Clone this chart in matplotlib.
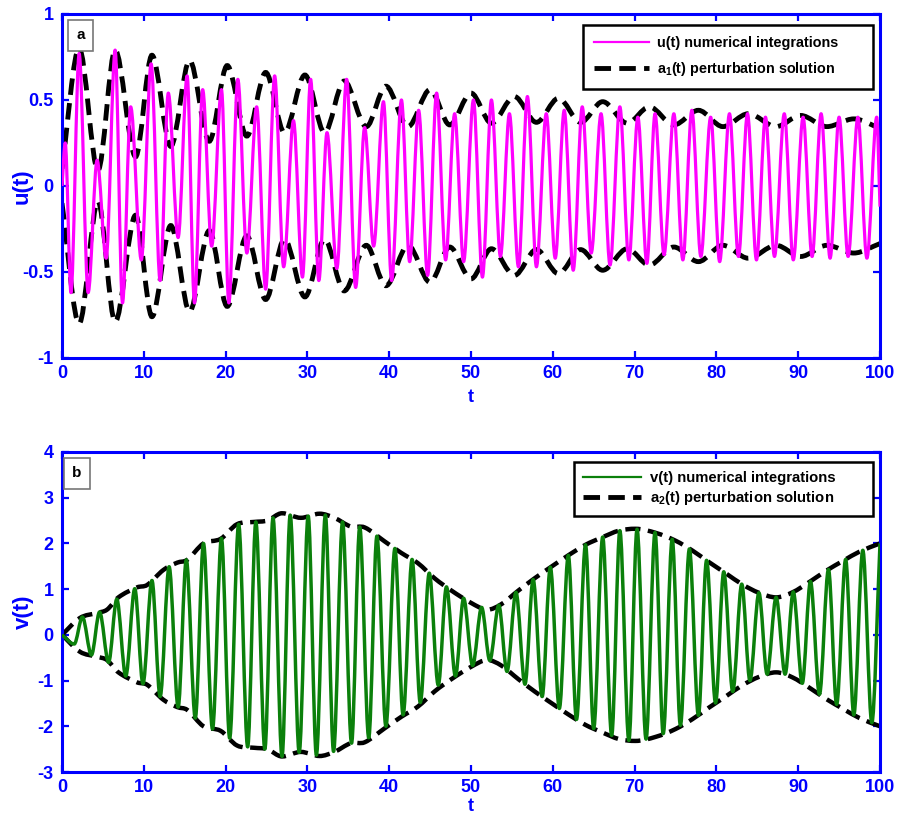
import numpy as np
import matplotlib
matplotlib.use('Agg')
import matplotlib.pyplot as plt
from matplotlib.lines import Line2D
from matplotlib.path import Path
from matplotlib.patches import PathPatch

plt.rcParams['font.family'] = ['Liberation Sans', 'DejaVu Sans']
plt.rcParams['mathtext.fontset'] = 'custom'
plt.rcParams['mathtext.rm'] = 'Liberation Sans:bold'
plt.rcParams['mathtext.it'] = 'Liberation Sans:bold'
plt.rcParams['mathtext.bf'] = 'Liberation Sans:bold'
plt.rcParams['axes.unicode_minus'] = False

# ---------------- data: panel a ----------------
u_peak_t = [0.4, 2.1, 4.3, 6.5, 8.4, 10.9, 13.0, 15.3, 17.2, 19.5, 21.5, 23.8, 26.0, 28.3,
            30.4, 32.4, 34.8, 37.0, 39.3, 41.5, 43.6, 45.8, 48.0, 50.3, 52.5, 54.7, 56.9,
            59.2, 61.4, 63.6, 65.9, 68.2, 70.4, 72.5, 74.8, 77.0, 79.3, 81.6, 83.8, 86.0,
            88.3, 90.6, 92.8, 95.0, 97.3, 99.6]
u_peak_v = [0.25, 0.77, 0.15, 0.79, 0.46, 0.71, 0.54, 0.64, 0.56, 0.56, 0.62, 0.46, 0.64, 0.38,
            0.62, 0.31, 0.62, 0.34, 0.49, 0.50, 0.44, 0.54, 0.42, 0.50, 0.50, 0.42, 0.52,
            0.42, 0.44, 0.46, 0.42, 0.46, 0.40, 0.42, 0.42, 0.44, 0.40, 0.42, 0.42, 0.40,
            0.42, 0.40, 0.42, 0.40, 0.40, 0.40]
u_trough_t = [0.0, 1.1, 3.2, 5.4, 7.4, 9.7, 12.0, 14.2, 16.2, 18.3, 20.4, 22.6, 24.9, 27.1,
              29.4, 31.4, 33.6, 35.9, 38.1, 40.3, 42.5, 44.7, 46.9, 49.1, 51.4, 53.6, 55.8,
              58.0, 60.3, 62.5, 64.7, 67.0, 69.3, 71.5, 73.6, 75.9, 78.1, 80.4, 82.7, 84.9,
              87.1, 89.4, 91.7, 93.9, 96.1, 98.4, 100.0]
u_trough_v = [0.0, -0.62, -0.62, -0.42, -0.68, -0.43, -0.55, -0.30, -0.68, -0.35, -0.68, -0.39,
              -0.60, -0.47, -0.53, -0.55, -0.48, -0.59, -0.35, -0.55, -0.44, -0.52, -0.43,
              -0.44, -0.53, -0.41, -0.47, -0.47, -0.42, -0.49, -0.39, -0.46, -0.43, -0.45,
              -0.40, -0.43, -0.41, -0.44, -0.41, -0.43, -0.41, -0.43, -0.41, -0.42, -0.41,
              -0.42, -0.12]
a1_t = [0.0, 2.1, 4.4, 6.5, 9.0, 11.0, 13.3, 15.6, 18.0, 20.2, 22.6, 24.9, 27.2, 29.7,
        32.1, 34.5, 37.2, 39.6, 42.3, 45.0, 47.4, 50.0, 52.5, 55.3, 58.0, 60.7, 63.4,
        66.1, 69.1, 71.8, 74.8, 77.8, 80.8, 83.9, 87.3, 90.3, 93.5, 96.8, 100.0]
a1_v = [0.10, 0.80, 0.09, 0.79, 0.17, 0.76, 0.23, 0.73, 0.26, 0.70, 0.29, 0.66, 0.31, 0.645,
        0.31, 0.61, 0.345, 0.58, 0.345, 0.56, 0.355, 0.54, 0.365, 0.52, 0.37, 0.51, 0.37,
        0.49, 0.365, 0.46, 0.355, 0.44, 0.345, 0.42, 0.345, 0.41, 0.345, 0.39, 0.335]

# ---------------- data: panel b ----------------
v_peak_t = [2.5, 4.6, 6.7, 8.9, 11.0, 13.1, 15.2, 17.3, 19.5, 21.6, 23.7, 25.8, 27.9, 30.1,
            32.2, 34.3, 36.4, 38.5, 40.7, 42.8, 44.9, 47.0, 49.1, 51.3, 53.4, 55.5, 57.6,
            59.7, 61.9, 64.0, 66.1, 68.2, 70.3, 72.5, 74.6, 76.7, 78.8, 80.9, 83.1, 85.2,
            87.3, 89.4, 91.5, 93.7, 95.8, 97.9, 100.0]
v_peak_v = [0.39, 0.50, 0.78, 1.01, 1.19, 1.49, 1.64, 2.0, 2.11, 2.42, 2.47, 2.56, 2.62, 2.6,
            2.62, 2.47, 2.36, 2.16, 1.89, 1.65, 1.35, 1.05, 0.8, 0.6, 0.65, 0.93, 1.21,
            1.48, 1.74, 1.97, 2.14, 2.28, 2.31, 2.24, 2.09, 1.88, 1.63, 1.38, 1.11, 0.92,
            0.82, 0.94, 1.17, 1.43, 1.65, 1.85, 2.0]
v_trough_t = [0.0, 1.5, 3.6, 5.7, 7.8, 9.9, 12.0, 14.2, 16.3, 18.4, 20.5, 22.7, 24.8, 26.9,
              29.0, 31.1, 33.2, 35.4, 37.5, 39.6, 41.7, 43.8, 46.0, 48.1, 50.2, 52.3, 54.4,
              56.6, 58.7, 60.8, 62.9, 65.0, 67.2, 69.3, 71.4, 73.5, 75.6, 77.8, 79.9, 82.0,
              84.1, 86.2, 88.4, 90.5, 92.6, 94.7, 96.8, 99.0]
v_trough_v = [0.0, -0.2, -0.44, -0.6, -0.9, -1.07, -1.35, -1.58, -1.82, -2.06, -2.26, -2.45,
              -2.5, -2.66, -2.57, -2.63, -2.55, -2.37, -2.25, -2.0, -1.75, -1.48, -1.1, -0.9,
              -0.67, -0.56, -0.8, -1.08, -1.35, -1.61, -1.85, -2.05, -2.2, -2.31, -2.28,
              -2.16, -1.98, -1.76, -1.49, -1.24, -1.0, -0.86, -0.86, -1.06, -1.3, -1.52,
              -1.75, -1.92]
a2_t = [0.0, 2.2, 4.3, 5.5, 6.9, 9.2, 10.4, 12.4, 14.1, 15.3, 17.3, 19.4, 21.4, 23.5, 25.1,
        26.9, 29.2, 31.5, 33.3, 35.3, 37.0, 39.4, 41.5, 43.5, 45.6, 47.6, 50.0, 52.0, 53.7,
        55.8, 57.8, 59.9, 61.9, 64.0, 66.0, 68.1, 70.1, 72.6, 75.0, 77.1, 79.1, 81.2, 83.2,
        85.2, 87.3, 89.3, 91.4, 93.4, 95.5, 97.5, 100.0]
a2_v = [0.0, 0.37, 0.48, 0.55, 0.82, 1.04, 1.09, 1.42, 1.58, 1.64, 2.0, 2.1, 2.42, 2.47, 2.5,
        2.66, 2.56, 2.65, 2.56, 2.37, 2.35, 2.05, 1.79, 1.57, 1.23, 0.97, 0.7, 0.55, 0.67,
        0.97, 1.24, 1.5, 1.74, 1.97, 2.13, 2.28, 2.32, 2.23, 2.06, 1.84, 1.59, 1.34, 1.1,
        0.92, 0.82, 0.93, 1.16, 1.4, 1.62, 1.82, 2.0]

x_ticks = [0, 10, 20, 30, 40, 50, 60, 70, 80, 90, 100]
u_ticks = [-1, -0.5, 0, 0.5, 1]
u_tick_labels = ['-1', '-0.5', '0', '0.5', '1']
v_ticks = [-3, -2, -1, 0, 1, 2, 3, 4]

BLUE = '#0000ff'
MAGENTA = '#ff00ff'
GREEN = '#0b800b'
DASH = (3.4, 1.7)


def merge(t1, v1, t2, v2):
    t = np.concatenate([t1, t2])
    v = np.concatenate([v1, v2])
    o = np.argsort(t, kind='stable')
    return t[o], v[o]


def smooth_path(x, y):
    """Cubic Bezier path through the read points (flat tangents at extrema)."""
    x = np.asarray(x, float)
    y = np.asarray(y, float)
    n = len(x)
    m = np.zeros(n)
    for i in range(1, n - 1):
        if (y[i] - y[i - 1]) * (y[i + 1] - y[i]) > 0:
            m[i] = (y[i + 1] - y[i - 1]) / (x[i + 1] - x[i - 1])
    m[0] = (y[1] - y[0]) / (x[1] - x[0])
    m[-1] = (y[-1] - y[-2]) / (x[-1] - x[-2])
    verts = [(x[0], y[0])]
    codes = [Path.MOVETO]
    for i in range(n - 1):
        h = x[i + 1] - x[i]
        verts += [(x[i] + h / 3, y[i] + m[i] * h / 3),
                  (x[i + 1] - h / 3, y[i + 1] - m[i + 1] * h / 3),
                  (x[i + 1], y[i + 1])]
        codes += [Path.CURVE4] * 3
    return Path(verts, codes)


def draw(ax, x, y, **kw):
    p = PathPatch(smooth_path(x, y), fill=False, **kw)
    ax.add_patch(p)
    return p


def style(ax):
    for s in ax.spines.values():
        s.set_color(BLUE)
        s.set_linewidth(2.2)
    ax.tick_params(direction='in', top=True, right=True, colors=BLUE, length=5,
                   width=1.6, labelsize=13, pad=6)
    ax.tick_params(axis='x', pad=5)
    for lab in ax.get_xticklabels() + ax.get_yticklabels():
        lab.set_fontweight('bold')
        lab.set_color(BLUE)


def xlabel_t(ax, y):
    ax.set_xlabel('t', color=BLUE, fontsize=13, fontweight='bold')
    ax.xaxis.label.set_verticalalignment('baseline')
    ax.xaxis.set_label_coords(0.5, y)


fig = plt.figure(figsize=(9.06, 8.16), dpi=100)
ax1 = fig.add_axes([0.0684, 0.5613, 0.9029, 0.4216])
ax2 = fig.add_axes([0.0684, 0.0539, 0.9029, 0.3922])

# ---- panel a ----
ut, uv = merge(u_peak_t, u_peak_v, u_trough_t, u_trough_v)
a1t = np.array(a1_t)
a1v = np.array(a1_v)
dkw = dict(edgecolor='black', lw=3.5, linestyle=(0, DASH), capstyle='butt', zorder=2)
draw(ax1, a1t, a1v, **dkw)
draw(ax1, a1t, -a1v, **dkw)
draw(ax1, ut, uv, edgecolor=MAGENTA, lw=2.3, zorder=3, joinstyle='round')
ax1.set_xlim(0, 100)
ax1.set_ylim(-1, 1)
ax1.set_xticks(x_ticks)
ax1.set_yticks(u_ticks)
ax1.set_yticklabels(u_tick_labels)
xlabel_t(ax1, -0.128)
ax1.set_ylabel('u(t)', color=BLUE, fontsize=16, fontweight='bold')
ax1.yaxis.set_label_coords(-0.0355, 0.5)
style(ax1)
h1 = [Line2D([], [], color=MAGENTA, lw=1.6),
      Line2D([], [], color='black', lw=3.5, dashes=DASH, dash_capstyle='butt')]
leg1 = ax1.legend(h1, ['u(t) numerical integrations      ',
                       r'a$_{1}$(t) perturbation solution      '],
                  loc='upper right', bbox_to_anchor=(0.9914, 0.968), borderaxespad=0,
                  prop={'size': 10.4, 'weight': 'bold'}, handlelength=3.8,
                  handletextpad=0.55, fancybox=False, edgecolor='black', framealpha=1,
                  labelspacing=0.7, borderpad=0.75)
leg1.get_frame().set_linewidth(1.8)
ax1.text(0.0226, 0.9375, 'a', transform=ax1.transAxes, fontsize=11, fontweight='bold',
         ha='center', va='center',
         bbox=dict(boxstyle='square,pad=0.55', fc='white', ec='#777777', lw=1.2))

# ---- panel b ----
vt, vv = merge(v_peak_t, v_peak_v, v_trough_t, v_trough_v)
a2t = np.array(a2_t)
a2v = np.array(a2_v)
dkw2 = dict(edgecolor='black', lw=3.2, linestyle=(0, DASH), capstyle='butt', zorder=2)
draw(ax2, a2t, a2v, **dkw2)
draw(ax2, a2t, -a2v, **dkw2)
draw(ax2, vt, vv, edgecolor=GREEN, lw=2.5, zorder=3, joinstyle='round')
ax2.set_xlim(0, 100)
ax2.set_ylim(-3, 4)
ax2.set_xticks(x_ticks)
ax2.set_yticks(v_ticks)
xlabel_t(ax2, -0.123)
ax2.set_ylabel('v(t)', color=BLUE, fontsize=16, fontweight='bold')
ax2.yaxis.set_label_coords(-0.034, 0.5)
style(ax2)
h2 = [Line2D([], [], color=GREEN, lw=1.6),
      Line2D([], [], color='black', lw=3.5, dashes=DASH, dash_capstyle='butt')]
leg2 = ax2.legend(h2, ['v(t) numerical integrations       ',
                       r'a$_{2}$(t) perturbation solution       '],
                  loc='upper right', bbox_to_anchor=(0.9914, 0.969), borderaxespad=0,
                  prop={'size': 10.7, 'weight': 'bold'}, handlelength=3.9,
                  handletextpad=0.55, fancybox=False, edgecolor='black', framealpha=1,
                  labelspacing=0.3, borderpad=0.6)
leg2.get_frame().set_linewidth(1.8)
ax2.text(0.018, 0.934, 'b', transform=ax2.transAxes, fontsize=11, fontweight='bold',
         ha='center', va='center',
         bbox=dict(boxstyle='square,pad=0.55', fc='white', ec='#777777', lw=1.2))

fig.savefig('out.png', dpi=100)
